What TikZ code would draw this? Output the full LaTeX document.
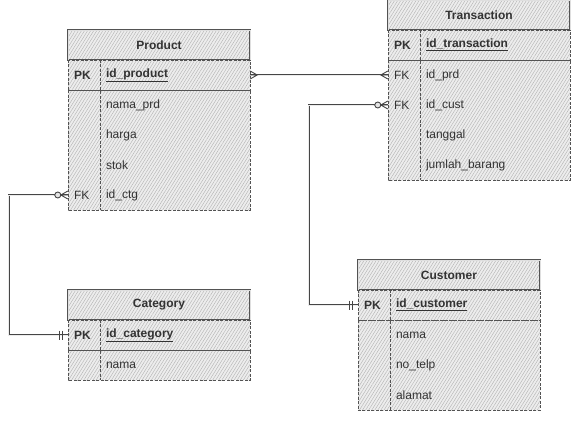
\documentclass[tikz,border=0pt]{standalone}
\usepackage{fontspec}
\setmainfont{Liberation Sans}
\usetikzlibrary{patterns.meta}

\tikzset{
  hatch/.style={preaction={fill=gray!14}, pattern={Lines[angle=58,distance=2.6pt,line width=0.45pt]}, pattern color=gray!58},
  title/.style={draw=gray!65!black, line width=0.5pt, double=gray!25, double distance=0.7pt,
    minimum width=182, minimum height=30, inner sep=0pt, font=\bfseries, text=black!80},
  keycell/.style={minimum height=30, inner xsep=6pt, inner ysep=0pt, text width=20, align=left, text=black!80},
  fieldcell/.style={minimum height=30, inner xsep=6pt, inner ysep=0pt, text width=138, align=left, text=black!80},
  pk/.style={font=\bfseries},
  cellline/.style={draw=gray!65!black, line width=0.5pt, dash pattern=on 3pt off 1.5pt},
  conn/.style={draw=gray!55!black, line width=0.75pt, double=gray!15, double distance=1pt},
  marker/.style={draw=gray!55!black, line width=0.9pt},
  many/.pic={\draw[marker] (0,-4) -- (7,0) -- (0,4) (0,0) -- (7,0);},
  zeromany/.pic={\draw[marker] (0,-4) -- (7,0) -- (0,4) (0,0) -- (14,0);
    \draw[marker, fill=gray!20] (10,0) circle (3);},
  one/.pic={\draw[marker] (5,-4.5) -- (5,4.5) (8,-4.5) -- (8,4.5);},
}

\begin{document}
\fontsize{12}{14}\selectfont
\begin{tikzpicture}[x=1pt, y=-1pt]
\useasboundingbox (0,0) rectangle (584,426);

% --- Product ---
\fill[hatch] (68,30) rectangle (250,210);
\node[title] (prd) at (159,45) {Product};
\node[keycell, pk] (prd-pk) at (84,75) {PK};
\node[fieldcell, pk] (prd-id) at (175,75) {\underline{id\_product}};
\foreach \y/\f in {105/nama\_prd, 135/harga, 165/stok}
  \node[fieldcell] (prd-\y) at (175,\y) {\f};
\node[keycell] (prd-fk) at (84,195) {FK};
\node[fieldcell] (prd-ctg) at (175,195) {id\_ctg};
\draw[cellline] (prd-pk.north west) rectangle (prd-id.south east);
\draw[cellline] (prd-pk.south west) rectangle (prd-ctg.south east);
\draw[cellline] (prd-pk.north east) -- (prd-pk.north east |- prd-fk.south);

% --- Transaction ---
\fill[hatch] (388,0) rectangle (570,180);
\node[title] (trx) at (479,15) {Transaction};
\node[keycell, pk] (trx-pk) at (404,45) {PK};
\node[fieldcell, pk] (trx-id) at (495,45) {\underline{id\_transaction}};
\node[keycell] (trx-fkprd) at (404,75) {FK};
\node[fieldcell] (trx-prd) at (495,75) {id\_prd};
\node[keycell] (trx-fkcust) at (404,105) {FK};
\node[fieldcell] (trx-cust) at (495,105) {id\_cust};
\foreach \y/\f in {135/tanggal, 165/jumlah\_barang}
  \node[fieldcell] (trx-\y) at (495,\y) {\f};
\draw[cellline] (trx-pk.north west) rectangle (trx-id.south east);
\draw[cellline] (trx-pk.south west) rectangle (trx-165.south east);
\draw[cellline] (trx-pk.north east) -- (trx-pk.north east |- trx-165.south);

% --- Category ---
\fill[hatch] (68,290) rectangle (250,380);
\node[title] (cat) at (159,305) {Category};
\node[keycell, pk] (cat-pk) at (84,335) {PK};
\node[fieldcell, pk] (cat-id) at (175,335) {\underline{id\_category}};
\node[fieldcell] (cat-nama) at (175,365) {nama};
\draw[cellline] (cat-pk.north west) rectangle (cat-id.south east);
\draw[cellline] (cat-pk.south west) rectangle (cat-nama.south east);
\draw[cellline] (cat-pk.north east) -- (cat-pk.north east |- cat-nama.south);

% --- Customer ---
\fill[hatch] (358,260) rectangle (540,410);
\node[title] (cus) at (449,275) {Customer};
\node[keycell, pk] (cus-pk) at (374,305) {PK};
\node[fieldcell, pk] (cus-id) at (465,305) {\underline{id\_customer}};
\foreach \y/\f in {335/nama, 365/no\_telp, 395/alamat}
  \node[fieldcell] (cus-\y) at (465,\y) {\f};
\draw[cellline] (cus-pk.north west) rectangle (cus-id.south east);
\draw[cellline] (cus-pk.south west) rectangle (cus-395.south east);
\draw[cellline] (cus-pk.north east) -- (cus-pk.north east |- cus-395.south);

% --- Relations ---
\draw[conn] (prd-id.east) -- (trx-fkprd.west);
\draw[conn] (trx-fkcust.west) -- ++(-79,0) |- (cus-pk.west);
\draw[conn] (prd-fk.west) -- ++(-59,0) |- (cat-pk.west);
\pic at (prd-id.east) {many};
\pic[xscale=-1] at (trx-fkprd.west) {many};
\pic[xscale=-1] at (trx-fkcust.west) {zeromany};
\pic[xscale=-1] at (cus-pk.west) {one};
\pic[xscale=-1] at (prd-fk.west) {zeromany};
\pic[xscale=-1] at (cat-pk.west) {one};
\end{tikzpicture}
\end{document}
